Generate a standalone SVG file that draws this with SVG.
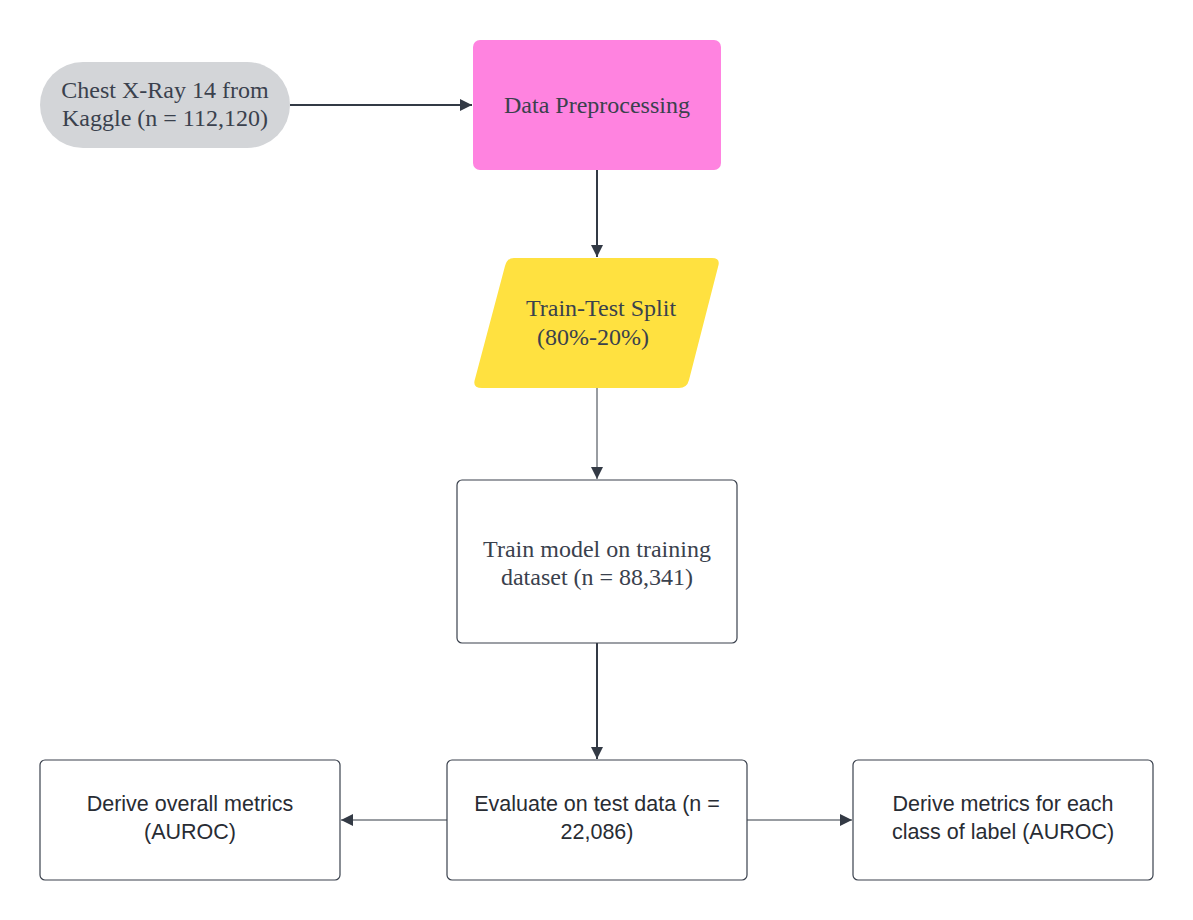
<svg xmlns="http://www.w3.org/2000/svg" width="1193" height="920" viewBox="0 0 1193 920">
<defs>
<marker id="ahb" viewBox="0 0 10 10" refX="10" refY="5" markerWidth="12" markerHeight="12" markerUnits="userSpaceOnUse" orient="auto"><path d="M0,0 L10,5 L0,10 z" fill="#333a45"/></marker>
</defs>
<style>
.serif{font-family:"Liberation Serif","DejaVu Serif",serif;font-size:24px;fill:#3a414d;text-anchor:middle}
.sans{font-family:"Liberation Sans",Arial,sans-serif;font-size:21.5px;fill:#282c33;text-anchor:middle}
.box{fill:#ffffff;stroke:#3a414d;stroke-width:1.2}
.thick{stroke:#333a45;stroke-width:2;fill:none}
.thin{stroke:#333a45;stroke-width:1;fill:none}
</style>
<rect width="1193" height="920" fill="#ffffff"/>
<g id="connectors">
<line class="thick" x1="290" y1="105" x2="472" y2="105" marker-end="url(#ahb)"/>
<line class="thick" x1="597" y1="170" x2="597" y2="257" marker-end="url(#ahb)"/>
<line class="thin" x1="597" y1="388" x2="597" y2="479" marker-end="url(#ahb)"/>
<line class="thick" x1="597" y1="643" x2="597" y2="759" marker-end="url(#ahb)"/>
<line class="thin" x1="447" y1="820" x2="341" y2="820" marker-end="url(#ahb)"/>
<line class="thin" x1="747" y1="820" x2="852" y2="820" marker-end="url(#ahb)"/>
</g>
<g id="source">
<rect x="40" y="62" width="250" height="86" rx="43" fill="#d3d5d8"/>
<text class="serif" x="165" y="98">Chest X-Ray 14 from</text>
<text class="serif" x="165" y="126">Kaggle (n = 112,120)</text>
</g>
<g id="preprocessing">
<rect x="473" y="40" width="248" height="130" rx="7" fill="#ff83e0"/>
<text class="serif" x="597" y="113">Data Preprocessing</text>
</g>
<g id="split">
<path d="M514,258 L712,258 Q721,258 718,267 L689,380 Q687,388 679,388 L482,388 Q472,388 475,379 L505,266 Q507,258 514,258 Z" fill="#ffe140"/>
<text class="serif" x="601" y="316">Train-Test Split</text>
<text class="serif" x="593" y="345">(80%-20%)</text>
</g>
<g id="train">
<rect class="box" x="457" y="480" width="280" height="163" rx="5"/>
<text class="serif" x="597" y="557">Train model on training</text>
<text class="serif" x="597" y="585">dataset (n = 88,341)</text>
</g>
<g id="evaluate">
<rect class="box" x="447" y="760" width="300" height="120" rx="5"/>
<text class="sans" x="597" y="811">Evaluate on test data (n =</text>
<text class="sans" x="597" y="839">22,086)</text>
</g>
<g id="overall">
<rect class="box" x="40" y="760" width="300" height="120" rx="5"/>
<text class="sans" x="190" y="811">Derive overall metrics</text>
<text class="sans" x="190" y="839">(AUROC)</text>
</g>
<g id="perclass">
<rect class="box" x="853" y="760" width="300" height="120" rx="5"/>
<text class="sans" x="1003" y="811">Derive metrics for each</text>
<text class="sans" x="1003" y="839">class of label (AUROC)</text>
</g>
</svg>
